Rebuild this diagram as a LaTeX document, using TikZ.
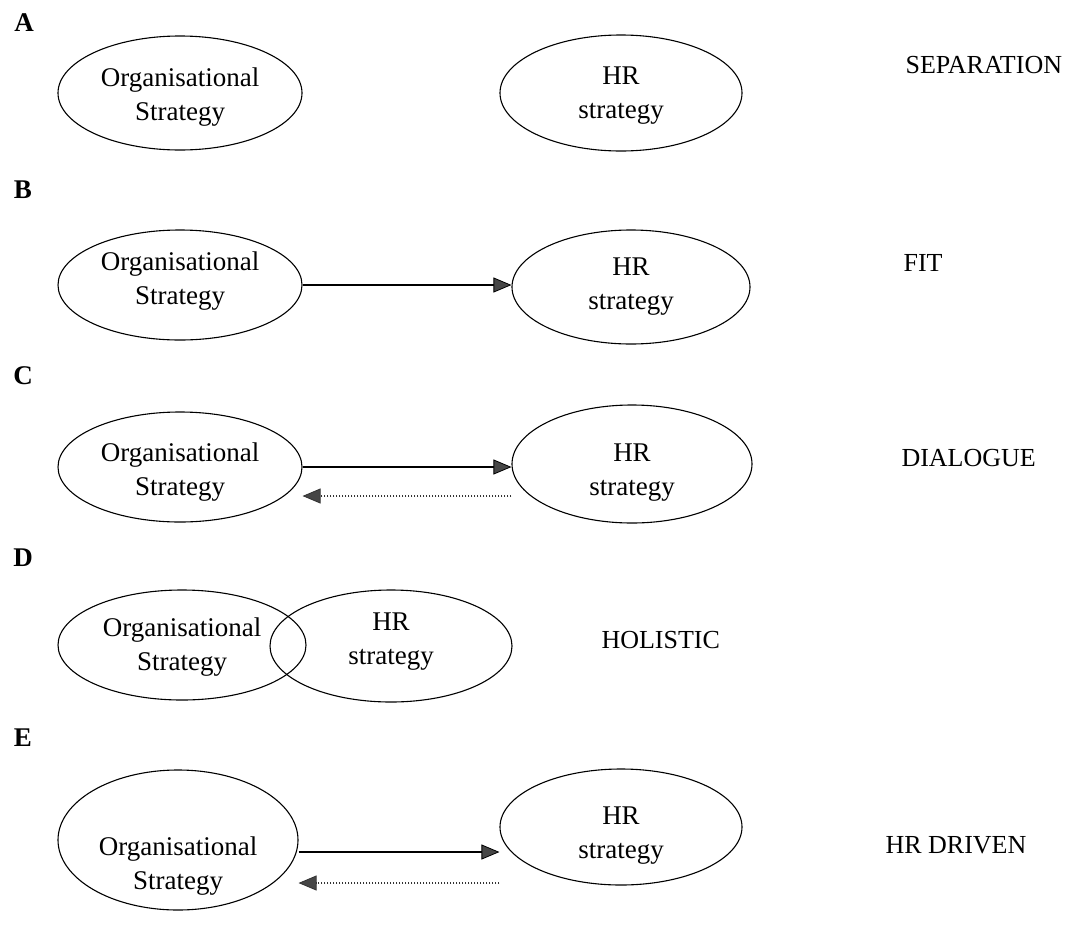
\documentclass[tikz,border=0pt]{standalone}
\usepackage{fontspec}
\setmainfont{Liberation Serif}
\usetikzlibrary{shapes.geometric,arrows.meta}
\begin{document}
\begin{tikzpicture}[x=1pt,y=-1pt,
  ell/.style={draw,ellipse,line width=1.1pt,inner sep=0pt},
  txt/.style={align=center,font=\fontsize{27}{34}\selectfont},
  lbl/.style={anchor=west,font=\fontsize{26}{30}\selectfont},
  letter/.style={font=\fontsize{27}{30}\selectfont\bfseries},
  tip/.style={-{Triangle[length=18pt,width=15pt,fill=gray!55!black,line width=0.8pt]}},
  solidarrow/.style={tip,line width=1.2pt},
  dotarrow/.style={tip,line width=1.1pt,dash pattern=on 1.2pt off 1.8pt,draw=gray!40!black}]
\useasboundingbox (0,0) rectangle (1068,940);

% A: separation
\node[letter] (la) at (24,23) {A};
\node[ell,minimum width=244pt,minimum height=114pt] (orgA) at (180,93) {};
\node[txt] (torgA) at ([yshift=-4pt]orgA.center) {Organisational\\Strategy};
\node[ell,minimum width=242pt,minimum height=116pt] (hrA) at (621,93) {};
\node[txt] (thrA) at ([yshift=-3pt]hrA.center) {HR\\strategy};
\node[lbl] (sA) at (902,65) {SEPARATION};

% B: fit
\node[letter] (lb) at (23,190) {B};
\node[ell,minimum width=244pt,minimum height=110pt] (orgB) at (180,285) {};
\node[txt] (torgB) at ([yshift=4pt]orgB.center) {Organisational\\Strategy};
\node[ell,minimum width=238pt,minimum height=114pt] (hrB) at (631,287) {};
\node[txt] (thrB) at (hrB.center) {HR\\strategy};
\node[lbl] (sB) at (900,263) {FIT};
\draw[solidarrow] (orgB.east) -- (orgB.east -| hrB.west);

% C: dialogue
\node[letter] (lc) at (23,376) {C};
\node[ell,minimum width=244pt,minimum height=110pt] (orgC) at (180,467) {};
\node[txt] (torgC) at ([yshift=-5pt]orgC.center) {Organisational\\Strategy};
\node[ell,minimum width=240pt,minimum height=118pt] (hrC) at (632,464) {};
\node[txt] (thrC) at ([yshift=-9pt]hrC.center) {HR\\strategy};
\node[lbl] (sC) at (898,458) {DIALOGUE};
\draw[solidarrow] (orgC.east) -- (orgC.east -| hrC.west);
\draw[dotarrow] ([yshift=-32pt]hrC.west) -- ([yshift=-29pt]orgC.east);

% D: holistic
\node[letter] (ld) at (23,558) {D};
\node[ell,minimum width=248pt,minimum height=110pt] (orgD) at (182,645) {};
\node[txt] (torgD) at ([yshift=-2pt]orgD.center) {Organisational\\Strategy};
\node[ell,minimum width=242pt,minimum height=112pt] (hrD) at (391,646) {};
\node[txt] (thrD) at ([yshift=4pt]hrD.center) {HR\\strategy};
\node[lbl] (sD) at (598,640) {HOLISTIC};

% E: HR driven
\node[letter] (le) at (23,738) {E};
\node[ell,minimum width=240pt,minimum height=140pt] (orgE) at (178,840) {};
\node[txt] (torgE) at ([yshift=-26pt]orgE.center) {Organisational\\Strategy};
\node[ell,minimum width=242pt,minimum height=116pt] (hrE) at (621,827) {};
\node[txt] (thrE) at ([yshift=-9pt]hrE.center) {HR\\strategy};
\node[lbl] (sE) at (882,845) {HR DRIVEN};
\draw[solidarrow] ([yshift=-12pt]orgE.east) -- ([yshift=-12pt]orgE.east -| hrE.west);
\draw[dotarrow] ([yshift=-56pt]hrE.west) -- ([yshift=-43pt]orgE.east);
\end{tikzpicture}
\end{document}
